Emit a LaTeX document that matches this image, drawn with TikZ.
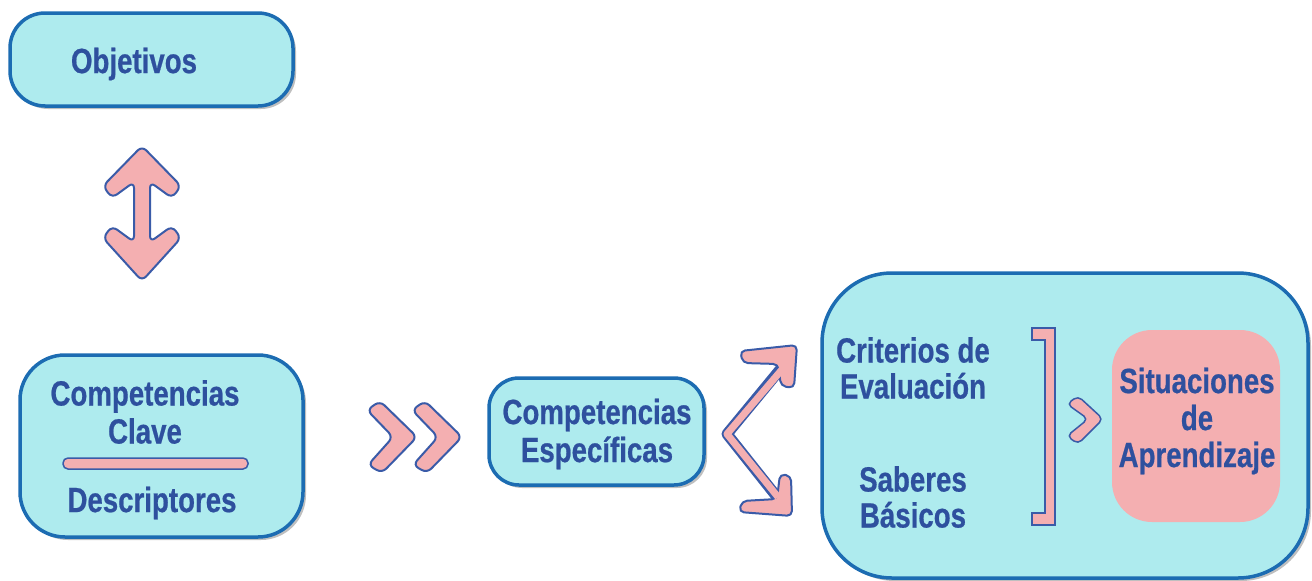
\documentclass[tikz,border=0pt]{standalone}
\usepackage{fontspec}
\newfontfamily\lbl[FakeStretch=0.79,FakeBold=0.6]{Liberation Sans}
\usetikzlibrary{shadows}
\definecolor{boxfill}{HTML}{AEEBEE}
\definecolor{boxline}{HTML}{1C6CB2}
\definecolor{pinkfill}{HTML}{F4AFB1}
\definecolor{pinkline}{HTML}{3A5BA8}
\definecolor{txt}{HTML}{2E509E}
\tikzset{
  cbox/.style={draw=boxline, line width=3.5pt, fill=boxfill,
    drop shadow={shadow xshift=3pt, shadow yshift=-3pt, opacity=0.25, fill=black}},
  pinkshape/.style={draw=pinkline, line width=2pt, fill=pinkfill, line join=round},
  lab/.style={text=txt, font=\lbl\bfseries\fontsize{35}{38}\selectfont, align=center, inner sep=0pt}
}
\begin{document}
\begin{tikzpicture}[x=1pt,y=-1pt]
\useasboundingbox (0,0) rectangle (1312,581);
% boxes
\draw[cbox, rounded corners=35pt] (10,13) rectangle (293,106);
\draw[cbox, rounded corners=45pt] (20,355) rectangle (303,537);
\draw[cbox, rounded corners=30pt] (489,378) rectangle (704,485);
\draw[cbox, rounded corners=70pt] (822,273) rectangle (1308,578);
\fill[pinkfill, rounded corners=40pt] (1112,330) rectangle (1280,522);
% texts
\node[lab] (tobj) at (134,64) {Objetivos};
\node[lab] (tcc) at (145,412) {Competencias\\Clave};
\draw[pinkshape, line width=1.5pt, rounded corners=5pt] (63,458) rectangle (248,469);
\node[lab] (tdesc) at (152,503) {Descriptores};
\node[lab] (tce) at (597,434) {Competencias\\Específicas};
\node[lab, font=\lbl\bfseries\fontsize{35}{36}\selectfont] (tcrit) at (913,368) {Criterios de\\Evaluación};
\node[lab, font=\lbl\bfseries\fontsize{35}{36}\selectfont] (tsab) at (913,497) {Saberes\\Básicos};
\node[lab, font=\lbl\bfseries\fontsize{35}{37}\selectfont] (tsit) at (1197,421) {Situaciones\\de\\Aprendizaje};
% double vertical arrow
\draw[pinkshape, rounded corners=6pt] (142,146) -- (181,186) -- (172,198) -- (150,182) -- (150,242) -- (172,226) -- (181,238) -- (142,281) -- (103,238) -- (112,226) -- (134,242) -- (134,182) -- (112,198) -- (103,186) -- cycle;
% double chevrons
\draw[pinkshape, rounded corners=6pt] (367,410) -- (380,401) -- (417,437) -- (382,473) -- (368,465) -- (393,437) -- cycle;
\draw[pinkshape, rounded corners=6pt] (412,410) -- (425,401) -- (462,437) -- (427,473) -- (413,465) -- (438,437) -- cycle;
% branching arrow
\draw[pinkline, line width=11pt, line join=round] (788,360) -- (727,434) -- (781,502);
\draw[pinkshape, rounded corners=5pt] (740,351) -- (797,345) -- (794,388) -- (781,386) -- (778,364) -- (743,363) -- cycle;
\draw[pinkshape, rounded corners=5pt] (739,512) -- (792,516) -- (791,476) -- (780,474) -- (777,499) -- (742,501) -- cycle;
\draw[pinkfill, line width=7pt, line join=round] (785,366) -- (727,434) -- (778,497);
% bracket
\draw[pinkshape, line width=1.5pt, line join=miter] (1032,328) -- (1055,328) -- (1055,525) -- (1032,525) -- (1032,513) -- (1045,513) -- (1045,340) -- (1032,340) -- cycle;
% small chevron
\draw[pinkshape, line width=1.5pt, rounded corners=5pt] (1067,404) -- (1078,396) -- (1103,419) -- (1078,444) -- (1067,436) -- (1088,419) -- cycle;
\end{tikzpicture}
\end{document}
